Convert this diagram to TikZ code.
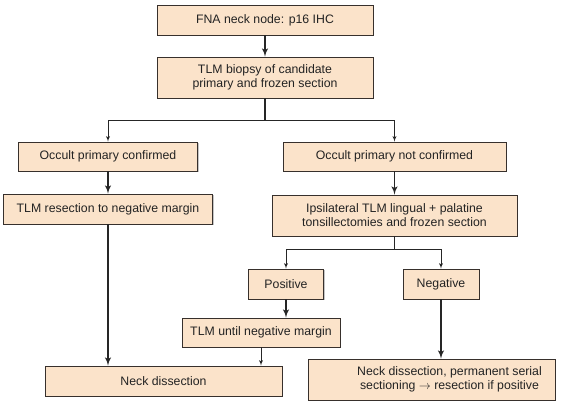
\documentclass[tikz,border=0pt]{standalone}
\usepackage{fontspec}
\setmainfont{Liberation Sans}
\usetikzlibrary{arrows,shadows}
\definecolor{boxpeach}{RGB}{251,227,202}
\definecolor{boxline}{RGB}{55,48,44}
\definecolor{txtgray}{RGB}{35,35,35}

\begin{document}
\begin{tikzpicture}[x=1pt,y=-1pt,
		bx/.style={draw=boxline,fill=boxpeach,line width=0.8pt,inner sep=0pt,
			drop shadow={shadow xshift=1pt,shadow yshift=-1pt,fill=black!45,opacity=0.5}},
		txt/.style={align=center,text=txtgray,font=\fontsize{12.3}{14}\selectfont},
		thk/.style={-latex',line width=1.8pt,draw=black!85},
		thn/.style={-latex',line width=0.9pt,draw=black!85}]
		\useasboundingbox (0,0) rectangle (566,405);
		% top
		\node[bx,txt,minimum width=216pt,minimum height=30pt] (fna) at (265,20) {FNA neck node: p16 IHC};
		\node[bx,txt,minimum width=216pt,minimum height=41pt] (bio) at (265,77.5) {TLM biopsy of candidate\\primary and frozen section};
		\draw[thk] (fna) -- (bio);
		
		%% occult primary
		\node[bx,txt,minimum width=179pt,minimum height=29pt] (conf) at (108,156.5) {Occult primary confirmed};
		\node[bx,txt,minimum width=223pt,minimum height=29pt] (nconf) at (394.5,156.5) {Occult primary not confirmed};
		\coordinate (split1) at ([yshift=-22pt]bio.south);
		\draw[line width=1.8pt,draw=black!85] (bio) -- (split1);
		\foreach \b in {conf,nconf}
			\draw[thn] (split1) -| (\b.north);
		
		%% left branch
		\node[bx,txt,minimum width=209pt,minimum height=30pt] (res) at (108,209) {TLM resection to negative margin};
		\draw[thk] (conf) -- (res);
		\node[bx,txt,minimum width=237pt,minimum height=30pt] (neck) at (163.5,381) {Neck dissection};
		\draw[thk] (res.south) -- (res.south |- neck.north);
		
		%% right branch
		\node[bx,txt,minimum width=245pt,minimum height=41pt] (ipsi) at (394.5,215.5) {Ipsilateral TLM lingual + palatine\\tonsillectomies and frozen section};
		\draw[thk] (nconf) -- (ipsi);
		\node[bx,txt,minimum width=75pt,minimum height=30pt] (pos) at (286,284) {Positive};
		\node[bx,txt,minimum width=76pt,minimum height=30pt] (neg) at (441,284) {Negative};
		\coordinate (split2) at ([yshift=-13pt]ipsi.south);
		\draw[line width=1.8pt,draw=black!85] (ipsi) -- (split2);
		\foreach \b in {pos,neg}
			\draw[thn] (split2) -| (\b.north);
		
		\node[bx,txt,minimum width=158pt,minimum height=29pt] (until) at (261,332.5) {TLM until negative margin};
		\draw[thk] (pos.south) -- (pos.south |- until.north);
		\draw[thn] (until.south) -- (until.south |- neck.north);
		
		\node[bx,minimum width=247pt,minimum height=41pt] (negres) at (431.5,379.5) {};
		\node[txt] (negtxt) at ([xshift=18pt]negres.center) {Neck dissection, permanent serial\\sectioning $\rightarrow$ resection if positive};
		\draw[thk] (neg.south) -- (neg.south |- negres.north);
	\end{tikzpicture}
\end{document}
